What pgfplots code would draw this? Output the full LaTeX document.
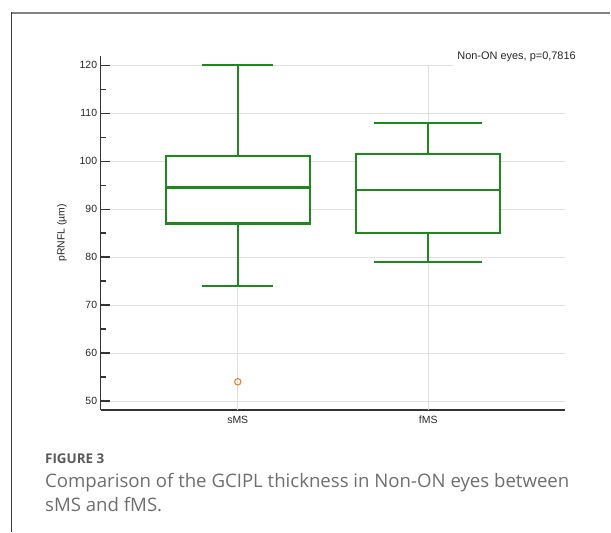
\documentclass[border=0pt]{standalone}
\usepackage{pgfplots}
\pgfplotsset{compat=1.18}
\usepackage{fontspec}
\setmainfont{Liberation Sans}
\newfontfamily\capfont{Open Sans}
\definecolor{boxgreen}{RGB}{30,135,30}
\definecolor{outl}{RGB}{240,125,45}
\definecolor{gridc}{RGB}{224,224,224}
\definecolor{axc}{RGB}{51,51,51}
\definecolor{capc}{RGB}{110,110,110}
\definecolor{figc}{RGB}{90,90,90}
\begin{document}
\begin{tikzpicture}
\path (0,0) rectangle (611bp,533bp);
% frame
\draw[color={rgb,255:red,130;green,130;blue,130}, line width=1.3bp] (11.7bp,520bp) -- (611bp,520bp);
\draw[color={rgb,255:red,60;green,60;blue,60}, line width=1bp] (11.7bp,520.6bp) -- (11.7bp,0bp);
\begin{axis}[
  at={(100.7bp,122.5bp)}, anchor=south west,
  scale only axis, width=465.3bp, height=354.8bp,
  xmin=-0.72, xmax=1.72, ymin=48.1, ymax=122,
  axis lines*=left,
  axis line style={axc, line width=1.4bp},
  xtick={0,1}, xticklabels={sMS,fMS},
  ytick={50,60,...,120}, minor y tick num=1,
  tick align=inside,
  major tick length=9bp, minor tick length=5bp,
  tick style={axc, line width=1.2bp},
  ymajorgrids, major grid style={gridc, line width=0.8bp},
  /pgf/number format/assume math mode=true,
  ticklabel style={font=\fontsize{10.5}{12}\selectfont, text=black!85},
  xticklabel style={yshift=-2.5bp},
  ylabel={pRNFL (µm)},
  ylabel style={at={(axis description cs:-0.083,0.5)}, anchor=center, font=\fontsize{10.5}{12}\selectfont, text=black!85},
  clip=false,
  every axis plot/.append style={line join=miter},
]
% category grid lines
\addplot[gridc, line width=0.8bp] coordinates {(0,48.1) (0,120)};
\addplot[gridc, line width=0.8bp] coordinates {(1,48.1) (1,120)};
% sMS: whiskers 74/120, quartiles 87/101, median 94.5
\addplot[boxgreen, line width=2.1bp] coordinates {(0,101) (0,120)};
\addplot[boxgreen, line width=2.1bp] coordinates {(0,74) (0,87)};
\addplot[boxgreen, line width=2.1bp] coordinates {(-0.186,120) (0.186,120)};
\addplot[boxgreen, line width=2.1bp] coordinates {(-0.186,74) (0.186,74)};
\addplot[draw=boxgreen, line width=2.1bp, fill=white] coordinates {(-0.377,87) (0.377,87) (0.377,101) (-0.377,101) (-0.377,87)} -- cycle;
\addplot[boxgreen, line width=2.1bp] coordinates {(-0.377,94.5) (0.377,94.5)};
% fMS: whiskers 79/108, quartiles 85/101.5, median 94
\addplot[boxgreen, line width=2.1bp] coordinates {(1,101.5) (1,108)};
\addplot[boxgreen, line width=2.1bp] coordinates {(1,79) (1,85)};
\addplot[boxgreen, line width=2.1bp] coordinates {(0.717,108) (1.283,108)};
\addplot[boxgreen, line width=2.1bp] coordinates {(0.717,79) (1.283,79)};
\addplot[draw=boxgreen, line width=2.1bp, fill=white] coordinates {(0.623,85) (1.377,85) (1.377,101.5) (0.623,101.5) (0.623,85)} -- cycle;
\addplot[boxgreen, line width=2.1bp] coordinates {(0.623,94) (1.377,94)};
% outlier
\addplot[only marks, mark=o, mark size=3.2bp, outl, mark options={line width=1.1bp}] coordinates {(0,54)};
\end{axis}
% annotation box
\node[fill=white, draw=none, anchor=south west, inner xsep=4.7bp, inner ysep=4.7bp, font=\fontsize{11}{13}\selectfont, text=black!85] at (453bp,466bp) {Non-ON eyes, p=0,7816};
% caption
\node[anchor=base west, inner sep=0pt, font=\capfont\fontsize{13.5}{15}\selectfont\bfseries, text=figc] at (45bp,69bp) {FIGURE 3};
\node[anchor=base west, inner sep=0pt, font=\capfont\fontsize{18.7}{21}\selectfont, text=capc] at (45bp,45bp) {Comparison of the GCIPL thickness in Non-ON eyes between};
\node[anchor=base west, inner sep=0pt, font=\capfont\fontsize{18.7}{21}\selectfont, text=capc] at (45bp,21bp) {sMS and fMS.};
\end{tikzpicture}
\end{document}
